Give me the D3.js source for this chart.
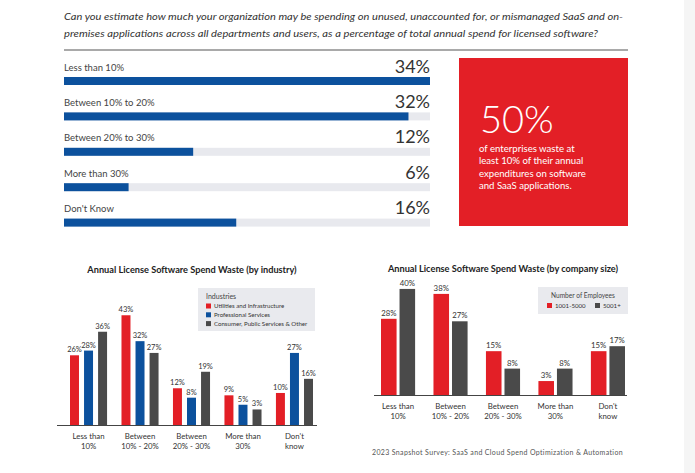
<!DOCTYPE html>
<html>
<head>
<meta charset="utf-8">
<script src="https://cdn.jsdelivr.net/npm/d3@7/dist/d3.min.js"></script>
<style>
  html, body { margin: 0; padding: 0; background: #fff; }
  svg { display: block; font-family: Lato, "Open Sans", sans-serif; }
</style>
</head>
<body>
<svg id="chart" width="695" height="473"></svg>
<script>
// ---------- DATA ----------
const questionLines = [
  "Can you estimate how much your organization may be spending on unused, unaccounted for, or mismanaged SaaS and on-",
  "premises applications across all departments and users, as a percentage of total annual spend for licensed software?"
];
const topCategories = ["Less than 10%", "Between 10% to 20%", "Between 20% to 30%", "More than 30%", "Don't Know"];
const topValues = [34, 32, 12, 6, 16];

const calloutValue = "50%";
const calloutLines = ["of enterprises waste at", "least 10% of their annual", "expenditures on software", "and SaaS applications."];

const groupCategories = [["Less than", "10%"], ["Between", "10% - 20%"], ["Between", "20% - 30%"], ["More than", "30%"], ["Don't", "know"]];

const industrySeries = ["Utilities and Infrastructure", "Professional Services", "Consumer, Public Services & Other"];
const industryUtilities = [26, 43, 12, 9, 10];
const industryProfessional = [28, 32, 8, 5, 27];
const industryConsumer = [36, 27, 19, 3, 16];

const sizeSeries = ["1001-5000", "5001+"];
const size1001 = [28, 38, 15, 3, 15];
const size5001 = [40, 27, 8, 8, 17];

const footerText = "2023 Snapshot Survey: SaaS and Cloud Spend Optimization & Automation";

// ---------- STYLE ----------
const RED = "#e31f26", BLUE = "#0c519d", GREY = "#4a4a4a", TRACK = "#e8e9ee", TXT = "#333";

const svg = d3.select("#chart");

// right side strip
svg.append("rect").attr("x", 684).attr("y", 0).attr("width", 11).attr("height", 473).attr("fill", "#f5f5f5");

// ---------- Question ----------
svg.selectAll("text.q").data(questionLines).join("text")
  .attr("class", "q")
  .attr("x", 64).attr("y", (d, i) => 19.5 + i * 17)
  .attr("font-size", 10.2).attr("font-style", "italic").attr("fill", "#333")
  .attr("textLength", (d, i) => i === 0 ? 559 : 534).attr("lengthAdjust", "spacingAndGlyphs")
  .text(d => d);
svg.append("line").attr("x1", 64).attr("x2", 628).attr("y1", 50).attr("y2", 50)
  .attr("stroke", "#555").attr("stroke-width", 1.2);

// ---------- Top horizontal bars ----------
const xTop = d3.scaleLinear().domain([0, d3.max(topValues)]).range([64, 430]);
const yTop = d3.scaleBand().domain(topCategories).range([59.5, 59.5 + 35.4 * 5]);
const topRows = svg.append("g").selectAll("g").data(topCategories).join("g")
  .attr("transform", d => `translate(0,${yTop(d)})`);
topRows.append("rect").attr("x", xTop(0)).attr("y", 17.5).attr("height", 8)
  .attr("width", xTop.range()[1] - xTop.range()[0]).attr("fill", TRACK);
topRows.append("rect").attr("x", xTop(0)).attr("y", 17.5).attr("height", 8)
  .attr("width", (d, i) => xTop(topValues[i]) - xTop(0)).attr("fill", BLUE);
topRows.append("text").attr("x", 64).attr("y", 11).attr("font-size", 9.5).attr("fill", "#444").text(d => d);
topRows.append("text").attr("x", 430).attr("y", 13).attr("text-anchor", "end")
  .attr("font-size", 18).attr("fill", "#333").text((d, i) => topValues[i] + "%");

// ---------- Callout box ----------
svg.append("rect").attr("x", 459).attr("y", 58).attr("width", 169).attr("height", 168).attr("fill", RED);
svg.append("text").attr("x", 480).attr("y", 133).attr("font-size", 38).attr("font-weight", 300)
  .attr("fill", "#fff").text(calloutValue);
svg.selectAll("text.co").data(calloutLines).join("text").attr("class", "co")
  .attr("x", 479).attr("y", (d, i) => 152 + i * 12.3).attr("font-size", 9.6).attr("fill", "#fff").text(d => d);

// ---------- Grouped chart helper ----------
function groupedChart(opts) {
  const g = svg.append("g");
  g.append("text").attr("x", opts.titleX).attr("y", opts.titleY).attr("text-anchor", "middle")
    .attr("font-size", 9.2).attr("font-weight", 700).attr("fill", "#222").text(opts.title);

  const x0 = d3.scaleBand().domain(d3.range(groupCategories.length)).range(opts.xRange).paddingInner(opts.padInner).paddingOuter(0);
  const x1 = d3.scaleBand().domain(d3.range(opts.series.length)).range([0, x0.bandwidth()]).paddingInner(opts.padSeries);
  const y = d3.scaleLinear().domain(opts.yDomain).range([opts.baseline, opts.yTop]);

  opts.series.forEach((vals, s) => {
    g.append("g").selectAll("rect").data(vals).join("rect")
      .attr("x", (d, i) => x0(i) + x1(s)).attr("width", x1.bandwidth())
      .attr("y", d => y(d)).attr("height", d => opts.baseline - y(d)).attr("fill", opts.colors[s]);
    g.append("g").selectAll("text").data(vals).join("text")
      .attr("x", (d, i) => x0(i) + x1(s) + x1.bandwidth() / 2).attr("y", d => y(d) - 3)
      .attr("text-anchor", "middle").attr("font-size", opts.valueSize).attr("fill", TXT).text(d => d + "%");
  });

  g.append("line").attr("x1", opts.axisX[0]).attr("x2", opts.axisX[1])
    .attr("y1", opts.baseline + 0.5).attr("y2", opts.baseline + 0.5).attr("stroke", "#444").attr("stroke-width", 1);

  const labels = g.append("g").selectAll("text").data(groupCategories).join("text")
    .attr("x", (d, i) => x0(i) + x0.bandwidth() / 2).attr("y", opts.baseline + opts.labelDy)
    .attr("text-anchor", "middle").attr("font-size", opts.labelSize).attr("fill", TXT);
  labels.selectAll("tspan").data(d => d).join("tspan")
    .attr("x", function () { return d3.select(this.parentNode).attr("x"); })
    .attr("dy", (d, i) => i === 0 ? 0 : opts.labelLine).text(d => d);
  return g;
}

// ---------- Left: by industry ----------
groupedChart({
  title: "Annual License Software Spend Waste (by industry)", titleX: 192, titleY: 273,
  series: [industryUtilities, industryProfessional, industryConsumer], colors: [RED, BLUE, GREY],
  xRange: [70, 313], padInner: 0.28, padSeries: 0.36,
  yDomain: [-3.6, 43], baseline: 425, yTop: 425 - 2.355 * 46.6,
  axisX: [57, 317], valueSize: 7.5, labelSize: 7.8, labelDy: 14, labelLine: 10
});
// legend (industry)
const lg1 = svg.append("g");
lg1.append("rect").attr("x", 198).attr("y", 288).attr("width", 117).attr("height", 43).attr("fill", "#e9eaee");
lg1.append("text").attr("x", 206).attr("y", 298.5).attr("font-size", 7).attr("fill", "#444").text("Industries");
lg1.selectAll("rect.sw").data(industrySeries).join("rect").attr("class", "sw")
  .attr("x", 206).attr("y", (d, i) => 303.5 + i * 8.8).attr("width", 5).attr("height", 5)
  .attr("fill", (d, i) => [RED, BLUE, GREY][i]);
lg1.selectAll("text.it").data(industrySeries).join("text").attr("class", "it")
  .attr("x", 214).attr("y", (d, i) => 308.3 + i * 8.8).attr("font-size", 6.1).attr("fill", "#333").text(d => d);

// ---------- Right: by company size ----------
groupedChart({
  title: "Annual License Software Spend Waste (by company size)", titleX: 503, titleY: 272,
  series: [size1001, size5001], colors: [RED, GREY],
  xRange: [381, 625], padInner: 0.35, padSeries: 0.16,
  yDomain: [-2.6, 40], baseline: 395, yTop: 395 - 2.49 * 42.6,
  axisX: [374, 627], valueSize: 7.8, labelSize: 7.8, labelDy: 14, labelLine: 9.5
});
const lg2 = svg.append("g");
lg2.append("rect").attr("x", 538).attr("y", 287).attr("width", 90).attr("height", 27).attr("fill", "#e9eaee");
lg2.append("text").attr("x", 583).attr("y", 298).attr("text-anchor", "middle").attr("font-size", 6.6).attr("fill", "#444").text("Number of Employees");
lg2.selectAll("rect.sw").data(sizeSeries).join("rect").attr("class", "sw")
  .attr("x", (d, i) => 547 + i * 48).attr("y", 303).attr("width", 5).attr("height", 5)
  .attr("fill", (d, i) => [RED, GREY][i]);
lg2.selectAll("text.it").data(sizeSeries).join("text").attr("class", "it")
  .attr("x", (d, i) => 555 + i * 48).attr("y", 308).attr("font-size", 6.1).attr("fill", "#333").text(d => d);

// ---------- Footer ----------
svg.append("text").attr("x", 372).attr("y", 455).attr("font-size", 7).attr("fill", "#555")
  .attr("letter-spacing", 0.35).text(footerText);
</script>
</body>
</html>
